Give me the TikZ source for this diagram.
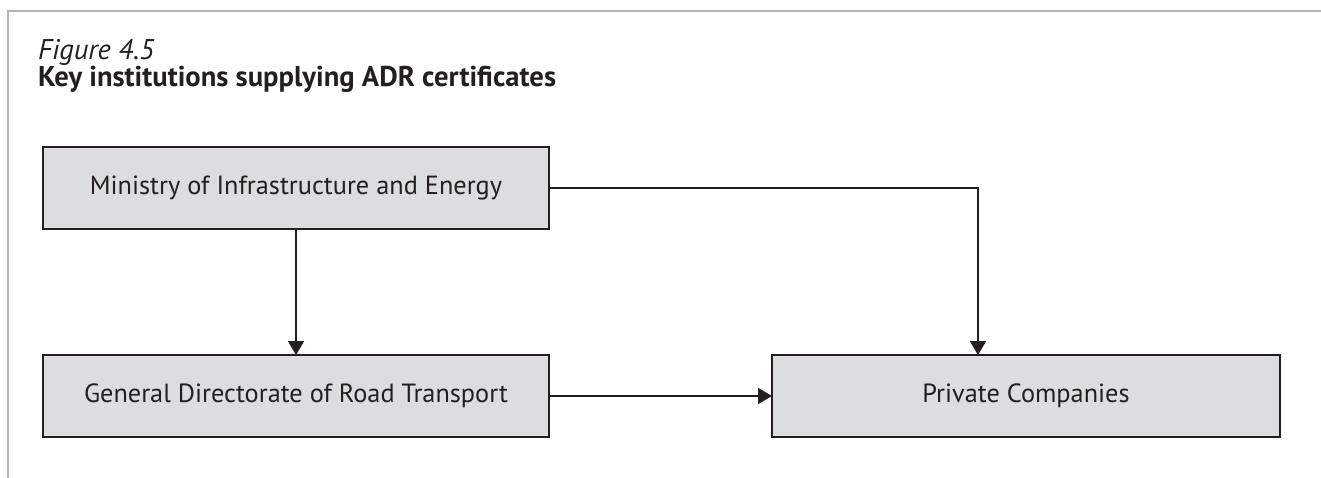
\documentclass[tikz,border=0pt]{standalone}
\usepackage{fontspec}
\setmainfont{PT Sans}
\usetikzlibrary{arrows.meta}
\definecolor{boxgray}{HTML}{DCDDDE}
\definecolor{boxline}{HTML}{231F20}
\definecolor{framegray}{HTML}{B3B3B3}

\begin{document}
\begin{tikzpicture}[x=1pt,y=-1pt,inner sep=0pt,outer sep=0pt,
  box/.style={rectangle, draw=boxline, line width=2pt, fill=boxgray, minimum width=506pt, minimum height=82pt, text=boxline, font=\fontsize{26.3}{30}\selectfont},
  link/.style={draw=boxline, line width=1.8pt, -{Triangle[length=14pt,width=16pt]}}]
	\useasboundingbox (0,0) rectangle (1321,478);
	\draw[framegray, line width=2pt] (1321,11) -- (8,11) -- (8,478);

	\node[anchor=base west, text=boxline, font=\fontsize{28.5}{34}\selectfont\itshape] (fignum) at (38,60) {Figure 4.5};
	\node[anchor=base west, text=boxline, font=\fontsize{28.6}{34}\selectfont\bfseries] (figtitle) at (38,87) {Key institutions supplying ADR certificates};

	\node[box] (ministry) at (296,188) {Ministry of Infrastructure and Energy};
	\node[box] (directorate) at (296,396) {General Directorate of Road Transport};
	\node[box, minimum width=508pt] (companies) at (1026,396) {Private Companies};
	\coordinate (bend) at (978,188);

	\draw[link] (ministry) -- (directorate);
	\draw[link] (ministry.east) -- (bend) -- (bend |- companies.north);
	\draw[link] (directorate) -- (companies);
\end{tikzpicture}
\end{document}
